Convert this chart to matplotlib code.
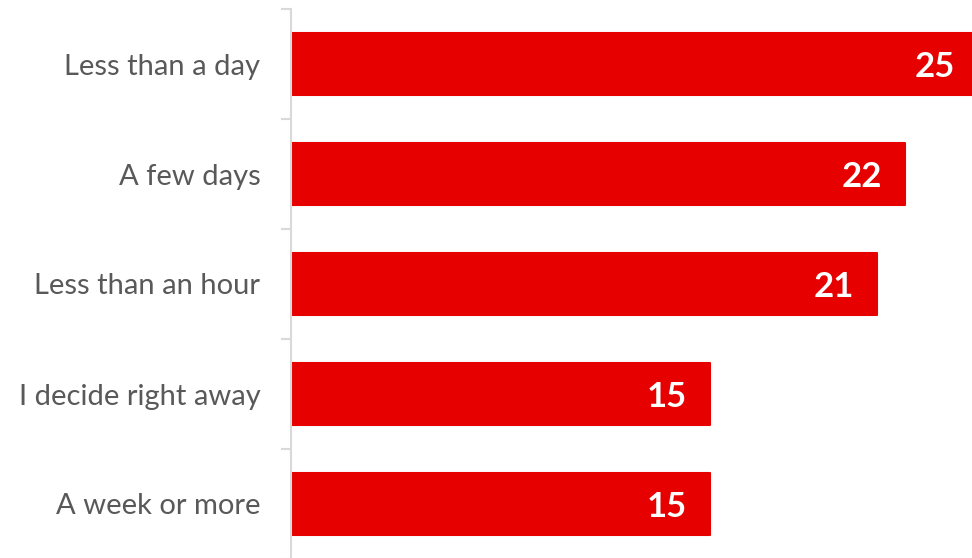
import matplotlib
matplotlib.use('Agg')
import matplotlib.pyplot as plt

# Данные
categories = ['Less than a day', 'A few days', 'Less than an hour',
              'I decide right away', 'A week or more']
values = [25, 22, 21, 15, 15]

BAR_COLOR = '#E60000'
AXIS_COLOR = '#D9D9D9'
TEXT_COLOR = '#595959'
XMAX = 24.4

plt.rcParams['font.family'] = ['Lato', 'DejaVu Sans']

fig = plt.figure(figsize=(9.72, 5.58), dpi=100)
ax = fig.add_axes([291 / 972, -1 / 558, 1 - 291 / 972, 550 / 558])

y = list(range(len(categories)))
ax.barh(y, values, height=0.565, color=BAR_COLOR, edgecolor=BAR_COLOR,
        linewidth=1.5, joinstyle='round', zorder=2)

ax.set_xlim(0, XMAX)
ax.set_ylim(len(categories) - 0.5, -0.5)

# Подписи значений внутри столбцов
for i, v in enumerate(values):
    x = min(v, XMAX)
    off = -17 if v > XMAX else -23
    ax.annotate(f'{v}', xy=(x, i), xytext=(off * 0.72, -2), textcoords='offset points',
                ha='right', va='center', color='white', fontsize=25, fontweight='bold')

# Оси
for s in ['top', 'right', 'bottom']:
    ax.spines[s].set_visible(False)
ax.spines['left'].set_color(AXIS_COLOR)
ax.spines['left'].set_linewidth(1.5)
ax.set_xticks([])
ax.set_yticks(y)
ax.set_yticklabels(categories, fontsize=21, color=TEXT_COLOR)
ax.tick_params(axis='y', which='major', length=0, pad=22)
ax.set_yticks([i - 0.5 for i in range(len(categories) + 1)], minor=True)
ax.tick_params(axis='y', which='minor', length=7, width=1.5, color=AXIS_COLOR)

fig.savefig('out.png', dpi=100, facecolor='white')
